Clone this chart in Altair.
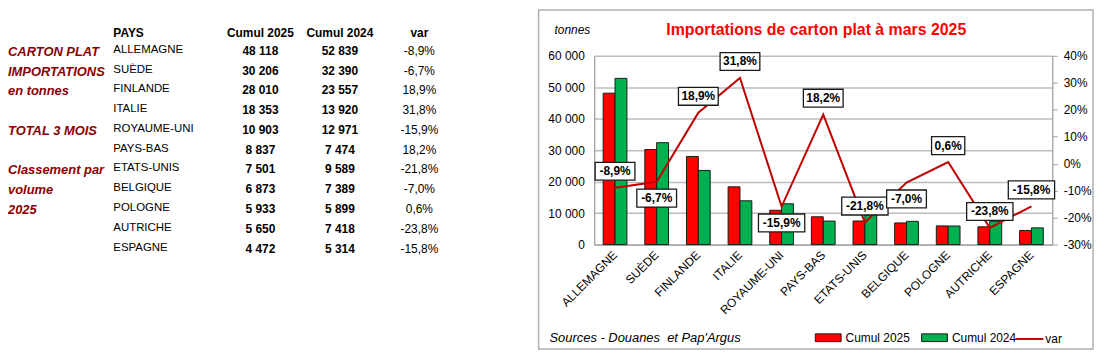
import altair as alt
import pandas as pd

# ---------------- data ----------------
pays = ["ALLEMAGNE", "SUÈDE", "FINLANDE", "ITALIE", "ROYAUME-UNI", "PAYS-BAS",
        "ETATS-UNIS", "BELGIQUE", "POLOGNE", "AUTRICHE", "ESPAGNE"]
cumul_2025 = [48118, 30206, 28010, 18353, 10903, 8837, 7501, 6873, 5933, 5650, 4472]
cumul_2024 = [52839, 32390, 23557, 13920, 12971, 7474, 9589, 7389, 5899, 7418, 5314]
var = [-0.089, -0.067, 0.189, 0.318, -0.159, 0.182, -0.218, -0.070, 0.006, -0.238, -0.158]
side_text = ["CARTON PLAT", "IMPORTATIONS", "en tonnes", "", "TOTAL 3 MOIS", "",
             "Classement par", "volume", "2025", "", ""]
headers = ["PAYS", "Cumul 2025", "Cumul 2024", "var"]
series = ["Cumul 2025", "Cumul 2024"]
title_text = "Importations de carton plat à mars 2025"
unit_text = "tonnes"
source_text = "Sources - Douanes\u00a0 et Pap'Argus"

df = pd.DataFrame({
    "pays": pays,
    "rang": list(range(1, len(pays) + 1)),
    "Cumul 2025": cumul_2025,
    "Cumul 2024": cumul_2024,
    "var": var,
    "side": side_text,
})
hdr_df = pd.DataFrame({"h": headers})
one = pd.DataFrame({"k": [0]})

FONT = "Liberation Sans"
MAROON = "#8B0000"
LINE_RED = "#C00000"

W, H = 461, 190        # plot area of the chart
W1 = 533               # width of the table panel

# ---------------- left panel: the table ----------------
row_y = alt.Y("rang:Q", scale=alt.Scale(domain=[1, 11], range=[-6, 193], nice=False, zero=False), axis=None)
tbase = alt.Chart(df)

t_names = tbase.mark_text(align="left", baseline="middle", fontSize=11.5, color="black").encode(
    x=alt.value(106), y=row_y, text="pays:N")
t_c25 = tbase.mark_text(align="center", baseline="middle", fontSize=12, fontWeight="bold", color="black", dy=1).encode(
    x=alt.value(254), y=row_y, text=alt.Text("Cumul 2025:Q", format=",d"))
t_c24 = tbase.mark_text(align="center", baseline="middle", fontSize=12, fontWeight="bold", color="black", dy=1).encode(
    x=alt.value(334), y=row_y, text=alt.Text("Cumul 2024:Q", format=",d"))
t_var = tbase.mark_text(align="center", baseline="middle", fontSize=12, color="black", dy=1).encode(
    x=alt.value(414), y=row_y, text=alt.Text("var:Q", format=".1%"))
t_side = tbase.mark_text(align="left", baseline="middle", fontSize=13, fontWeight="bold", fontStyle="italic",
                         color=MAROON, dy=2).encode(
    x=alt.value(0), y=row_y, text="side:N")

hdr_layers = []
for name, px, al in zip(headers, [106, 254, 334, 414], ["left", "center", "center", "center"]):
    hdr_layers.append(
        alt.Chart(hdr_df).transform_filter(alt.datum.h == name)
        .mark_text(align=al, baseline="middle", fontSize=12, fontWeight="bold", color="black")
        .encode(x=alt.value(px), y=alt.value(-23), text="h:N")
    )

left = alt.layer(t_side, t_names, t_c25, t_c24, t_var, *hdr_layers).properties(width=W1, height=H)

# ---------------- right panel: the chart ----------------
x_enc = alt.X("pays:N", sort=pays,
              scale=alt.Scale(paddingInner=0.43, paddingOuter=0.215),
              axis=alt.Axis(title=None, labelAngle=315, labelAlign="right", labelBaseline="middle",
                            labelFontSize=12, labelColor="black", ticks=False, labelPadding=8,
                            domainColor="#A0A0A0", domainWidth=1.3))
x_plain = alt.X("pays:N", sort=pays)

frame = alt.Chart(one).mark_rect(filled=False, stroke="#B0B0B0", strokeWidth=1.5).encode(
    x=alt.value(-56), x2=alt.value(W + 41), y=alt.value(-46), y2=alt.value(H + 105))

bars = alt.Chart(df).transform_fold(series, as_=["serie", "tonnes"]).mark_bar(
    stroke="#1a1a1a", strokeWidth=1).encode(
    x=x_enc,
    xOffset=alt.XOffset("serie:N", sort=series, scale=alt.Scale(paddingInner=0, paddingOuter=0)),
    y=alt.Y("tonnes:Q", scale=alt.Scale(domain=[0, 60000], nice=False),
            axis=alt.Axis(title=None, values=[0, 10000, 20000, 30000, 40000, 50000, 60000], format=",d",
                          grid=True, gridColor="#BDBDBD", gridWidth=1.5, ticks=False, tickSize=0,
                          labelPadding=10, labelFontSize=12, labelColor="black",
                          domainColor="#A0A0A0", domainWidth=1.3)),
    fill=alt.Fill("serie:N", sort=series,
                  scale=alt.Scale(domain=series, range=["#FF0000", "#00B050"]),
                  legend=alt.Legend(orient="none", legendX=812, legendY=270, direction="horizontal",
                                    title=None, symbolType="M-1,-0.3H1V0.3H-1Z", symbolSize=676,
                                    symbolStrokeColor="#1a1a1a", symbolStrokeWidth=1,
                                    labelFontSize=12, labelColor="black", labelOffset=4,
                                    columnPadding=9, padding=0)),
)

var_scale = alt.Scale(domain=[-0.3, 0.4], nice=False, zero=False)
vy = alt.Y("var:Q", scale=var_scale,
           axis=alt.Axis(orient="right", title=None, values=[-0.3, -0.2, -0.1, 0, 0.1, 0.2, 0.3, 0.4],
                         format=".0%", grid=False, tickSize=5, tickColor="#A0A0A0", labelPadding=6,
                         labelFontSize=12, labelColor="black", domainColor="#A0A0A0", domainWidth=1.3))

line = alt.Chart(df).transform_calculate(serie="'var'").mark_line(strokeWidth=2).encode(
    x=x_plain,
    y=vy,
    stroke=alt.Stroke("serie:N", scale=alt.Scale(domain=["var"], range=[LINE_RED]),
                      legend=alt.Legend(orient="none", legendX=1013, legendY=270, direction="horizontal",
                                        title=None, symbolType="stroke", symbolSize=784,
                                        symbolStrokeWidth=2, labelFontSize=12, labelColor="black",
                                        labelOffset=1, padding=0)),
)

below = ["SUÈDE", "ROYAUME-UNI", "BELGIQUE"]
is_below = alt.FieldOneOfPredicate(field="pays", oneOf=below)
not_below = alt.LogicalNotPredicate(**{"not": is_below})

box_w = "(7 + 6.6 * length(format(datum['var'], '.1%'))) / 20"
box_path = "'M' + (-datum.bw) + ',-0.9H' + datum.bw + 'V0.9H' + (-datum.bw) + 'Z'"


def label_layers(pred, off):
    b = (alt.Chart(df).transform_filter(pred)
         .transform_calculate(bw=box_w).transform_calculate(path=box_path)
         .mark_point(filled=True, fill="white", stroke="#1a1a1a", strokeWidth=1.3, opacity=1,
                     size=400, yOffset=off)
         .encode(x=x_plain, y=vy, shape=alt.Shape("path:N", scale=None)))
    t = (alt.Chart(df).transform_filter(pred)
         .mark_text(fontSize=12, fontWeight="bold", color="black", baseline="middle", dy=off)
         .encode(x=x_plain, y=vy, text=alt.Text("var:Q", format=".1%")))
    return b, t


b_up, t_up = label_layers(not_below, -16.5)
b_dn, t_dn = label_layers(is_below, 16.5)

title = alt.Chart(one).mark_text(text=title_text, align="center", baseline="middle", fontSize=16,
                                 fontWeight="bold", color="#FF0000").encode(
    x=alt.value(W / 2 - 7), y=alt.value(-26))
unit = alt.Chart(one).mark_text(text=unit_text, align="left", baseline="middle", fontSize=12,
                                fontStyle="italic", color="black").encode(
    x=alt.value(-40), y=alt.value(-26))
src = alt.Chart(one).mark_text(text=source_text, align="left", baseline="middle", fontSize=13,
                               fontStyle="italic", color="black").encode(
    x=alt.value(-45), y=alt.value(284))

right = alt.layer(
    frame,
    title, unit, src,
    bars,
    alt.layer(line, b_up, b_dn, t_up, t_dn),
).resolve_scale(y="independent").properties(width=W, height=H)

chart = alt.hconcat(left, right, spacing=0).properties(padding=0).configure(
    font=FONT,
    locale={"number": {"decimal": ",", "thousands": " ", "grouping": [3],
                       "currency": ["", " €"], "minus": "-"}},
).configure_view(stroke=None)

chart.save("out.html", embed_options={"renderer": "svg", "actions": False})
